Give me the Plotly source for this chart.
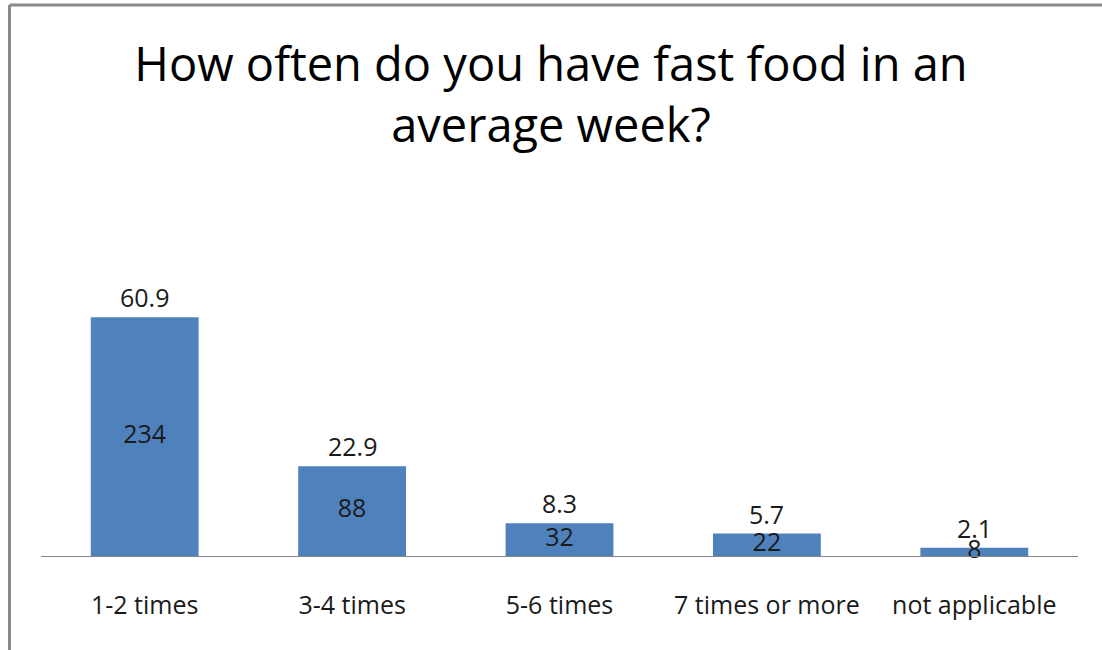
import plotly.graph_objects as go

categories = ["1-2 times", "3-4 times", "5-6 times", "7 times or more", "not applicable"]
counts = [234, 88, 32, 22, 8]
percents = ["60.9", "22.9", "8.3", "5.7", "2.1"]

TITLE = "How often do you have fast food in an<br>average week?"
FONT = "Open Sans"
BAR_COLOR = "#4f81bd"
TEXT_COLOR = "#1a1a1a"
LABEL_SIZE = 25

fig = go.Figure()

fig.add_trace(go.Bar(
    x=categories,
    y=counts,
    width=0.52,
    marker=dict(color=BAR_COLOR, line=dict(width=0)),
    hoverinfo="skip",
))

# counts sit in the middle of each bar
fig.add_trace(go.Scatter(
    x=categories,
    y=[c / 2 for c in counts],
    mode="text",
    text=[str(c) for c in counts],
    textposition="middle center",
    textfont=dict(family=FONT, size=LABEL_SIZE, color=TEXT_COLOR),
    cliponaxis=False,
    hoverinfo="skip",
))

# percentages above the bars
for cat, c, p in zip(categories, counts, percents):
    fig.add_annotation(
        x=cat, y=c, text=p, showarrow=False,
        yanchor="middle", yshift=20,
        font=dict(family=FONT, size=LABEL_SIZE, color=TEXT_COLOR),
    )

L, R, T, B = 41, 24, 250, 94
W, H = 1102, 650
pw, ph = W - L - R, H - T - B

def px(x):
    return (x - L) / pw

def py(y):
    return (H - B - y) / ph

fig.update_layout(
    width=W,
    height=H,
    margin=dict(l=L, r=R, t=T, b=B),
    paper_bgcolor="white",
    plot_bgcolor="white",
    showlegend=False,
    font=dict(family=FONT, color=TEXT_COLOR),
    title=dict(
        text=TITLE,
        x=0.5,
        xanchor="center",
        y=1 - 81 / H,
        yanchor="middle",
        font=dict(family=FONT, size=47, color="black"),
    ),
    xaxis=dict(
        showline=True,
        linecolor="#868686",
        linewidth=1,
        showgrid=False,
        ticks="",
        ticklabelstandoff=27,
        tickfont=dict(family=FONT, size=LABEL_SIZE, color=TEXT_COLOR),
        fixedrange=True,
    ),
    yaxis=dict(
        range=[0, 300],
        visible=False,
        showgrid=False,
        zeroline=False,
        fixedrange=True,
    ),
    shapes=[
        dict(type="line", xref="paper", yref="paper",
             x0=px(9.5), x1=px(1102), y0=py(5), y1=py(5),
             line=dict(color="#8a8a8a", width=3)),
        dict(type="line", xref="paper", yref="paper",
             x0=px(9.5), x1=px(9.5), y0=py(5), y1=py(650),
             line=dict(color="#8a8a8a", width=3)),
    ],
)

fig.write_html(
    "out.html",
    config={"displayModeBar": False},
    post_script="document.body.style.margin='0';",
)
